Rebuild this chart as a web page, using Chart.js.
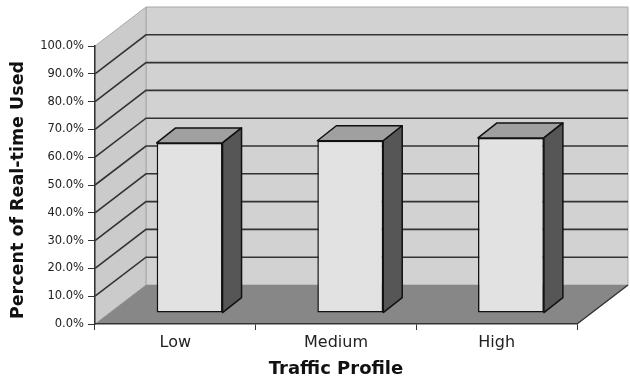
<!DOCTYPE html>
<html>
<head>
<meta charset="utf-8">
<script src="https://cdn.jsdelivr.net/npm/chart.js@4/dist/chart.umd.min.js"></script>
<style>
  html, body { margin: 0; padding: 0; background: #ffffff; }
  #wrap { width: 630px; height: 381px; }
</style>
</head>
<body>
<div id="wrap"><canvas id="chart" width="630" height="381"></canvas></div>
<script>
// Share of real-time capacity used per traffic profile
const categories = ['Low', 'Medium', 'High'];
const realTimeUsed = [61.2, 62.0, 63.0];
const percentTicks = ['0.0%', '10.0%', '20.0%', '30.0%', '40.0%', '50.0%',
                      '60.0%', '70.0%', '80.0%', '90.0%', '100.0%'];
const valueAxisTitle = 'Percent of Real-time Used';

// Depth of the plot box and of each column
const WALL_DX = 51, WALL_DY = 39;
const BAR_DEPTH_POS = 0.28;      // columns stand this far back into the box
const BAR_DX = 19, BAR_DY = 15;

const LINE = '#333333';

function poly(ctx, pts, fill, stroke, lw) {
  ctx.beginPath();
  ctx.moveTo(pts[0][0], pts[0][1]);
  for (let i = 1; i < pts.length; i++) ctx.lineTo(pts[i][0], pts[i][1]);
  ctx.closePath();
  if (fill) { ctx.fillStyle = fill; ctx.fill(); }
  if (stroke) { ctx.strokeStyle = stroke; ctx.lineWidth = lw || 1; ctx.stroke(); }
}

const box3d = {
  id: 'box3d',
  beforeDraw(chart) {
    const { ctx, chartArea: a, scales } = chart;
    const y = scales.y;
    const y0 = y.getPixelForValue(y.min), yTop = y.getPixelForValue(y.max);
    const xl = a.left, xr = a.right;
    ctx.save();
    // back wall
    poly(ctx, [[xl + WALL_DX, yTop - WALL_DY], [xr + WALL_DX, yTop - WALL_DY],
               [xr + WALL_DX, y0 - WALL_DY], [xl + WALL_DX, y0 - WALL_DY]], '#d2d2d2', '#a8a8a8', 1);
    // side wall
    poly(ctx, [[xl, yTop], [xl + WALL_DX, yTop - WALL_DY],
               [xl + WALL_DX, y0 - WALL_DY], [xl, y0]], '#cbcbcb', '#a8a8a8', 1);
    // floor
    poly(ctx, [[xl, y0], [xl + WALL_DX, y0 - WALL_DY],
               [xr + WALL_DX, y0 - WALL_DY], [xr, y0]], '#878787', null);
    ctx.beginPath();
    ctx.moveTo(xr, y0); ctx.lineTo(xr + WALL_DX, y0 - WALL_DY);
    ctx.strokeStyle = LINE; ctx.lineWidth = 1.5; ctx.stroke();
    // gridlines running along the side wall and across the back wall
    y.ticks.forEach(t => {
      if (t.value === y.min || t.value === y.max) return;
      const py = y.getPixelForValue(t.value);
      ctx.beginPath();
      ctx.moveTo(xl, py);
      ctx.lineTo(xl + WALL_DX, py - WALL_DY);
      ctx.lineTo(xr + WALL_DX, py - WALL_DY);
      ctx.strokeStyle = LINE; ctx.lineWidth = 1.6; ctx.stroke();
    });
    ctx.restore();
  },
  beforeDatasetsDraw(chart) {
    chart.ctx.save();
    chart.ctx.translate(WALL_DX * BAR_DEPTH_POS, -WALL_DY * BAR_DEPTH_POS);
  },
  afterDatasetsDraw(chart) {
    const ctx = chart.ctx;
    ctx.restore();
    const sx = WALL_DX * BAR_DEPTH_POS, sy = WALL_DY * BAR_DEPTH_POS;
    chart.getDatasetMeta(0).data.forEach(bar => {
      const p = bar.getProps(['x', 'y', 'base', 'width'], true);
      const L = p.x - p.width / 2 + sx, R = p.x + p.width / 2 + sx;
      const T = p.y - sy, B = p.base - sy;
      ctx.save();
      ctx.lineJoin = 'round';
      poly(ctx, [[L, T], [L + BAR_DX, T - BAR_DY], [R + BAR_DX, T - BAR_DY], [R, T]], '#a0a0a0', '#111', 1.5);
      poly(ctx, [[R, T], [R + BAR_DX, T - BAR_DY], [R + BAR_DX, B - BAR_DY], [R, B]], '#565656', '#111', 1.5);
      ctx.restore();
    });
  },
  afterDraw(chart) {
    // value-axis title, centred on the plot box including its depth
    const { ctx, chartArea: a } = chart;
    ctx.save();
    ctx.translate(18, (a.top + a.bottom) / 2 + 5);
    ctx.rotate(-Math.PI / 2);
    ctx.font = 'bold 17.5px "DejaVu Sans"';
    ctx.fillStyle = '#111';
    ctx.textAlign = 'center';
    ctx.textBaseline = 'middle';
    ctx.fillText(valueAxisTitle, 0, 0);
    ctx.restore();
  }
};

new Chart(document.getElementById('chart'), {
  type: 'bar',
  data: {
    labels: categories,
    datasets: [{
      data: realTimeUsed,
      backgroundColor: '#e2e2e2',
      borderColor: '#111111',
      borderWidth: 1.5,
      borderSkipped: false,
      barPercentage: 0.41,
      categoryPercentage: 1
    }]
  },
  options: {
    responsive: false,
    devicePixelRatio: 1,
    animation: false,
    layout: { padding: { left: 0, top: 46, right: 53, bottom: 0 } },
    plugins: { legend: { display: false }, tooltip: { enabled: false } },
    scales: {
      x: {
        grid: { drawOnChartArea: false, drawTicks: true, tickLength: 6, color: LINE, lineWidth: 1 },
        border: { display: true, color: LINE, width: 1.5 },
        ticks: { color: '#222', padding: 3, font: { family: 'DejaVu Sans', size: 16 } },
        title: {
          display: true, text: 'Traffic Profile', color: '#111',
          font: { family: 'DejaVu Sans', size: 18, weight: 'bold' },
          padding: { top: 0, bottom: 1 }
        },
        afterFit(s) { s.height = 57; }
      },
      y: {
        min: 0, max: 100,
        grid: { drawOnChartArea: false, drawTicks: true, tickLength: 7, color: LINE, lineWidth: 1 },
        border: { display: true, color: LINE, width: 1.5 },
        ticks: {
          stepSize: 10, color: '#222', padding: 4,
          font: { family: 'DejaVu Sans', size: 11.5 },
          callback: (v, i) => percentTicks[i]
        },
        afterFit(s) { s.width = 95; }
      }
    }
  },
  plugins: [box3d]
});
</script>
</body>
</html>
